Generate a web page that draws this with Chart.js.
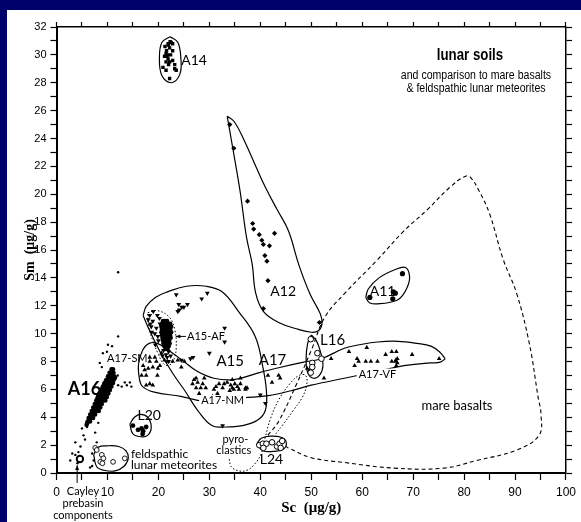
<!DOCTYPE html>
<html lang="en">
<head>
<meta charset="UTF-8">
<title>lunar soils - Sm vs Sc</title>
<script src="https://cdn.jsdelivr.net/npm/chart.js@4.4.1/dist/chart.umd.min.js"></script>
<style>
  html, body { margin: 0; padding: 0; overflow: hidden; background: #fff; }
  .band { position: fixed; background: #00006a; }
  #bandTop { left: 0; top: 0; right: 0; height: 10px; }
  #bandLeft { left: 0; top: 0; bottom: 0; width: 7px; }
  #wrap { position: absolute; left: 7px; top: 10px; width: 574px; height: 512px; }
</style>
</head>
<body>
<div class="band" id="bandTop"></div>
<div class="band" id="bandLeft"></div>
<div id="wrap"><canvas id="myChart" width="574" height="512"></canvas></div>
<script>
// ---- data (Sc, Sm in ug/g) ----
const a14 = [[21.9,30.8],[22.5,30.9],[22.8,30.8],[21.3,30.6],[22.2,30.5],[22.8,30.3],[21.5,30.1],[21.2,29.9],[21.9,29.7],
  [22.2,29.5],[22.8,29.6],[23.2,29.3],[20.9,29.1],[21.5,28.9],[23.2,29.0],[23.5,28.9],[22.2,28.3],[22.0,30.7],[21.6,30.3],
  [22.4,30.0],[21.8,30.0],[22.0,29.3],[21.5,29.5],[22.3,30.95],[21.7,29.9]];
const a12 = [[34.0,25.0],[34.8,23.3],[37.5,19.5],[38.5,17.9],[38.7,17.5],[39.8,17.1],[40.3,16.7],[40.6,16.4],[41.8,16.3],
  [42.8,17.2],[40.9,15.6],[41.3,15.2],[41.5,13.8],[40.6,11.8],[51.6,10.8]];
const a11 = [[67.9,14.3],[61.5,12.6],[66.1,13.0],[66.5,12.9],[66.0,12.5]];
const l16 = [[49.9,9.6],[51.2,8.6],[52.0,8.2],[50.2,7.9],[50.2,7.6],[49.9,7.2]];
const l20 = [[15.0,3.4],[16.0,3.1],[16.7,3.2],[17.0,3.0],[17.6,3.3],[16.9,2.8]];
const l24 = [[39.8,2.0],[40.5,2.1],[41.2,2.1],[42.3,2.2],[43.3,1.9],[43.8,2.1],[44.3,2.3],[40.6,1.8],[44.0,1.8]];
const feld = [[7.6,1.8],[7.9,1.65],[8.9,1.3],[9.2,1.05],[8.6,0.8],[9.0,0.7],[11.1,0.8],[13.4,1.05]];
const cayley = [[4.6,1.0]];
const a15 = [[23.5,12.8],[28.5,12.5],[29.6,12.9],[24.0,12.1],[24.6,11.9],[25.7,12.1],[24.1,11.7],[23.8,11.6],[25.0,11.9],
  [33.0,10.4],[33.0,9.4],[30.0,8.6],[26.3,8.2],[26.8,8.3],[24.5,8.1],[40.0,5.6],[41.0,5.0],[32.6,3.4],
  [18.3,11.3],[18.9,10.9],[18.6,10.5],[19.6,10.4],[20.2,11.1],[19.3,10.0],[18.0,11.0],[19.0,11.6],[19.9,9.8],[19.4,9.2],
  [20.0,9.5],[19.8,11.3],[18.4,10.7],[20.3,10.7],[18.7,10.1],
  [21.0,8.8],[21.5,8.5],[22.0,8.7],[21.7,8.3],[22.4,8.4],[20.8,8.4],[22.0,8.0]];
const a15af = [[20.9,10.9],[21.3,10.9],[21.7,10.9],
  [20.7,10.7],[21.1,10.7],[21.5,10.7],[21.9,10.7],[22.3,10.7],
  [20.6,10.5],[21.0,10.5],[21.4,10.5],[21.8,10.5],[22.2,10.5],[22.5,10.5],
  [20.7,10.3],[21.1,10.3],[21.5,10.3],[21.9,10.3],[22.3,10.3],
  [20.6,10.1],[21.0,10.1],[21.4,10.1],[21.8,10.1],[22.2,10.1],[22.5,10.1],
  [20.7,9.9],[21.1,9.9],[21.5,9.9],[21.9,9.9],[22.3,9.9],
  [20.8,9.7],[21.2,9.7],[21.6,9.7],[22.0,9.7],[22.4,9.7],
  [20.9,9.5],[21.3,9.5],[21.7,9.5],[22.1,9.5],
  [21.0,9.3],[21.4,9.3],[21.8,9.3],[22.2,9.3],
  [21.2,9.1],[21.6,9.1],[22.0,9.1],[21.4,8.9],[21.8,8.9]];
const a17 = [[17.0,7.7],[17.3,7.4],[18.0,7.5],[18.3,8.0],[19.3,8.3],[19.6,8.0],[18.9,7.6],[19.9,7.5],[17.6,7.0],[18.3,8.3],
  [20.6,8.6],[21.2,8.1],[21.8,8.0],[16.7,7.0],[18.9,6.3],[18.3,6.4],[17.6,6.3],[19.8,7.0],[20.3,7.7],[22.8,8.0],[23.8,8.1],
  [25.1,8.0],[24.5,7.6],
  [27.0,6.7],[27.4,6.8],[26.7,6.4],[27.7,6.5],[28.7,6.4],[29.0,6.8],[28.3,6.1],[27.4,6.1],[29.3,6.1],[30.9,6.0],[31.3,6.2],
  [31.9,6.4],[32.9,6.4],[32.6,6.1],[34.2,6.3],[34.5,6.1],[34.8,6.0],[35.5,6.2],[35.8,6.0],[36.1,6.4],[37.1,6.1],[31.6,5.7],
  [28.0,5.7],[30.6,5.5],[34.5,6.7],[37.4,6.1],[33.5,6.5],[34.0,5.9],[35.0,6.4],[36.1,6.8],[37.1,6.0],
  [41.5,7.0],[42.3,6.5],[43.6,7.0],[43.9,6.8],[49.2,7.5],[50.0,7.2],[49.6,7.35]];
const a17vf = [[53.9,8.2],[57.4,8.7],[60.9,9.0],[59.0,8.2],[59.3,8.0],[60.7,8.0],[61.7,8.0],[63.0,8.0],[58.5,7.7],[64.6,8.5],
  [65.8,8.7],[66.7,8.7],[66.5,8.0],[65.8,8.0],[66.9,7.9],[66.7,7.7],[69.8,8.5],[75.1,8.2],[52.5,6.8],[66.6,8.1],[66.9,8.2]];
const a16 = [[6.1,3.7],[6.6,3.7],[6.3,3.95],[6.8,3.95],[7.2,3.95],[6.6,4.2],[7.1,4.2],[7.6,4.2],
  [6.9,4.45],[7.4,4.45],[7.9,4.45],[8.3,4.45],[7.2,4.7],[7.7,4.7],[8.2,4.7],[8.6,4.7],
  [7.5,4.95],[8.0,4.95],[8.5,4.95],[8.9,4.95],[7.8,5.2],[8.3,5.2],[8.8,5.2],[9.2,5.2],[9.6,5.2],
  [8.1,5.45],[8.6,5.45],[9.1,5.45],[9.5,5.45],[9.9,5.45],[8.4,5.7],[8.9,5.7],[9.4,5.7],[9.8,5.7],[10.2,5.7],
  [8.8,5.95],[9.2,5.95],[9.7,5.95],[10.1,5.95],[10.5,5.95],[9.1,6.2],[9.6,6.2],[10.0,6.2],[10.4,6.2],[10.8,6.2],
  [9.4,6.45],[9.9,6.45],[10.3,6.45],[10.7,6.45],[11.1,6.45],[9.8,6.7],[10.2,6.7],[10.6,6.7],[11.0,6.7],[11.3,6.7],
  [10.1,6.95],[10.5,6.95],[10.9,6.95],[11.3,6.95],[10.4,7.2],[10.8,7.2],[11.2,7.2],[10.8,7.45],[11.1,7.45],
  [6.9,4.08],[7.35,4.33],[7.65,4.58],[7.95,4.83],[8.25,5.08],[8.55,5.33],[8.85,5.58],[9.15,5.83],[9.45,6.08],
  [9.75,6.33],[10.05,6.58],[10.4,6.83],[10.7,7.08],[9.3,5.33],[9.6,5.58],[9.95,5.83],[10.25,6.08],[10.55,6.33],
  [10.9,6.58],[8.0,5.33],[8.3,5.58],[8.7,5.83],[9.0,6.08],[9.3,6.33],[9.65,6.58],[7.5,4.58],[6.45,3.83],[7.0,4.33],
  [8.6,5.08],[8.9,5.33],[11.2,6.83],[11.5,6.85],[6.0,3.55],[5.9,3.45]];
const a16Scatter = [[12.1,14.4],[12.1,9.8],[10.1,9.2],[10.9,9.1],[9.1,8.6],[9.9,8.7],[8.9,7.6],[12.1,6.3],[12.8,6.2],
  [14.4,6.5],[14.7,6.2],[13.4,6.5],[6.0,3.3],[5.3,2.7],[5.6,2.4],[4.7,1.9],[4.3,1.5],[3.7,1.3],[7.0,1.4],[7.3,0.9],
  [6.6,0.4],[4.1,0.7],[2.7,0.9],[3.7,2.2],[3.1,1.4],[7.6,2.9],[8.2,3.6],[7.9,2.2],[7.0,0.5],[13.8,6.3],[11.6,6.8],
  [12.0,7.0],[8.5,7.9],[5.0,3.2]];

// ---- field outlines (Sc, Sm) ----
const a14Field = [[22.3,31.3],[23.8,30.9],[24.4,29.8],[24.2,28.6],[22.5,28.0],[20.7,28.5],[20.2,29.8],[20.7,30.9],[22.3,31.3]];
const a12Field = [[33.5,25.6],[34.9,25.2],[36.8,23.9],[39.0,22.1],[41.0,20.5],[43.3,18.9],[45.5,17.4],[47.6,14.9],
  [49.8,12.8],[51.8,11.4],[52.1,10.7],[51.4,10.2],[50.0,10.1],[47.5,10.3],[43.6,10.8],[40.6,11.6],[39.1,12.9],
  [38.4,15.0],[37.3,16.9],[36.0,20.3],[34.6,23.3],[33.5,25.6]];
const a11Field = [[60.7,12.6],[61.5,12.2],[63.5,12.15],[65.5,12.25],[67.3,12.5],[68.8,13.3],[69.3,14.1],[68.5,14.75],
  [66.5,14.6],[63.3,14.0],[61.2,13.2],[60.7,12.6]];
const l16Field = [[50.0,9.9],[51.0,9.5],[51.8,8.7],[52.3,7.7],[51.6,7.0],[50.4,6.8],[49.3,7.2],[49.0,8.2],[49.3,9.3],[50.0,9.9]];
const l20Field = [[14.4,3.5],[15.3,4.0],[16.5,4.2],[17.9,4.0],[18.6,3.3],[17.9,2.7],[16.5,2.6],[15.0,2.8],[14.4,3.5]];
const feldField = [[7.3,1.3],[8.2,1.85],[9.9,1.95],[12.2,1.9],[13.6,1.6],[14.1,1.1],[13.3,0.5],[11.5,0.15],[9.3,0.2],
  [7.9,0.45],[7.3,1.3]];
const l24Field = [[39.3,2.1],[40.2,2.5],[42.0,2.65],[44.2,2.55],[45.1,2.2],[44.5,1.7],[42.5,1.55],[40.5,1.6],[39.3,2.1]];
const a15afField = [[17.9,11.5],[19.8,11.65],[22.1,11.2],[23.2,10.3],[23.5,9.0],[23.0,8.1],[22.2,7.75],[21.1,7.8],
  [19.9,8.6],[18.9,9.5],[18.1,10.5],[17.9,11.5]];
const a15Field = [[17.0,11.3],[17.6,11.95],[19.4,12.6],[21.8,13.0],[25.5,13.4],[29.4,13.4],[32.5,13.0],[35.7,11.6],
  [39.0,9.8],[40.5,7.6],[41.2,5.9],[41.0,4.5],[39.5,3.8],[36.5,3.4],[33.0,3.3],[30.5,3.4],[27.7,4.5],[25.2,5.9],
  [22.9,7.1],[20.6,8.5],[18.3,10.2],[17.0,11.3]];
const a17Field = [[76.3,8.2],[75.3,8.65],[73.5,9.1],[70.8,9.3],[67.0,9.45],[63.0,9.4],[59.5,9.2],[56.5,8.95],[52.0,8.2],
  [48.5,7.95],[43.6,7.55],[39.3,7.15],[34.8,6.7],[30.9,6.8],[27.6,7.3],[25.0,8.0],[22.4,8.7],[19.8,9.3],[18.2,9.3],
  [16.9,8.8],[16.1,7.8],[16.3,6.7],[16.9,6.2],[19.2,5.8],[24.4,5.5],[28.9,5.15],[32.6,5.25],[36.7,5.4],[41.6,5.55],
  [46.0,5.9],[50.0,6.3],[56.5,6.8],[63.0,7.3],[68.2,7.7],[73.5,7.9],[75.3,7.95],[76.3,8.2]];
const mareField = [[41.5,2.7],[43.6,3.7],[46.9,6.2],[50.0,8.8],[52.7,11.2],[56.6,12.9],[63.0,15.3],[68.0,17.3],
  [72.8,18.9],[77.2,20.5],[80.3,21.3],[81.3,21.2],[83.0,20.2],[85.0,18.6],[87.7,15.3],[90.3,12.9],[92.8,9.3],
  [94.5,5.5],[95.1,4.2],[94.7,2.7],[90.3,1.65],[82.5,0.9],[76.0,0.35],[66.3,0.35],[56.6,0.75],[50.0,1.1],[45.5,1.8],[45.1,1.9]];
const pyroField = [[33.9,1.0],[34.3,0.45],[35.8,0.15],[37.4,0.2],[38.8,0.6],[40.2,1.4],[41.0,2.6],[42.0,3.9],[43.7,5.3],
  [45.8,6.4],[47.6,7.0],[48.9,7.0],[49.1,6.3],[48.2,5.4],[46.5,4.5],[44.5,3.5],[42.8,2.7]];

// ---- text labels placed in data units ----
const notes = [
  { t: 'A14', x: 27.0, y: 29.6, s: 14 },
  { t: 'A12', x: 44.5, y: 13.0, s: 14 },
  { t: 'A11', x: 64.0, y: 13.0, s: 14 },
  { t: 'L16', x: 54.2, y: 9.5, s: 15 },
  { t: 'A15', x: 34.1, y: 8.0, s: 15 },
  { t: 'A17', x: 42.4, y: 8.1, s: 15 },
  { t: 'A17-SM', x: 13.9, y: 8.2, s: 11 },
  { t: 'A15-AF', x: 25.6, y: 9.8, s: 11, a: 'left' },
  { t: 'A17-NM', x: 32.6, y: 5.2, s: 11, bg: true },
  { t: 'A17-VF', x: 63.0, y: 7.1, s: 11, bg: true },
  { t: 'L20', x: 18.2, y: 4.15, s: 14 },
  { t: 'L24', x: 42.2, y: 0.95, s: 14 },
  { t: 'pyro-', x: 35.1, y: 2.4, s: 11 },
  { t: 'clastics', x: 34.8, y: 1.6, s: 11 },
  { t: 'feldspathic', x: 14.6, y: 1.35, s: 12, a: 'left' },
  { t: 'lunar meteorites', x: 14.6, y: 0.55, s: 12, a: 'left' },
  { t: 'mare basalts', x: 78.6, y: 4.85, s: 13 },
  { t: 'A16', x: 5.5, y: 6.0, s: 18, w: 'bold' }
];

const FONT_N = "'Liberation Sans Narrow', 'Liberation Sans', sans-serif";
const FONT_H = "Lato, 'Liberation Sans', sans-serif";
const FONT_S = "'Liberation Serif', serif";

const xy = (arr) => arr.map(([x, y]) => ({ x, y }));

function pts(data, style, r, extra) {
  return Object.assign({
    data: xy(data), pointStyle: style, pointRadius: r, pointHoverRadius: r,
    backgroundColor: '#000', borderColor: '#000', borderWidth: 0, showLine: false
  }, extra || {});
}
function field(data, dash, w) {
  return {
    data: xy(data), showLine: true, tension: 0.4, pointRadius: 0, fill: false,
    borderColor: '#000', borderWidth: w || 1.2, borderDash: dash || []
  };
}

function arrow(ctx, x0, y0, x1, y1) {
  const a = Math.atan2(y1 - y0, x1 - x0), h = 5;
  ctx.beginPath();
  ctx.moveTo(x0, y0); ctx.lineTo(x1, y1); ctx.stroke();
  ctx.beginPath();
  ctx.moveTo(x1, y1);
  ctx.lineTo(x1 - h * Math.cos(a - 0.4), y1 - h * Math.sin(a - 0.4));
  ctx.lineTo(x1 - h * Math.cos(a + 0.4), y1 - h * Math.sin(a + 0.4));
  ctx.closePath(); ctx.fill();
}

// squeeze a line of text horizontally, like the condensed face of the original
function squeezed(ctx, text, x, y, k) {
  ctx.save();
  ctx.translate(x, y);
  ctx.scale(k, 1);
  ctx.fillText(text, 0, 0);
  ctx.restore();
}

const notesPlugin = {
  id: 'notes',
  afterDraw(chart) {
    const { ctx, chartArea: ca, scales: { x, y } } = chart;
    ctx.save();
    ctx.fillStyle = '#000';
    ctx.strokeStyle = '#000';
    ctx.lineWidth = 1;
    ctx.textBaseline = 'middle';
    notes.forEach(n => {
      ctx.font = `${n.w || 'normal'} ${n.s}px ${FONT_H}`;
      ctx.textAlign = n.a || 'center';
      const px = x.getPixelForValue(n.x), py = y.getPixelForValue(n.y);
      if (n.bg) {
        const w = ctx.measureText(n.t).width;
        ctx.fillStyle = '#fff';
        ctx.fillRect(px - w / 2 - 2, py - n.s / 2, w + 4, n.s);
        ctx.fillStyle = '#000';
      }
      ctx.fillText(n.t, px, py);
    });
    // arrow to the A15-AF cluster
    arrow(ctx, x.getPixelForValue(25.4), y.getPixelForValue(9.8), x.getPixelForValue(23.4), y.getPixelForValue(9.8));
    // Cayley prebasin components, under the axis
    ctx.font = `11px ${FONT_H}`;
    ctx.textAlign = 'center';
    const cx = x.getPixelForValue(5.2);
    ctx.fillText('Cayley', cx, ca.bottom + 18);
    ctx.fillText('prebasin', cx, ca.bottom + 30);
    ctx.fillText('components', cx, ca.bottom + 42);
    arrow(ctx, x.getPixelForValue(4.05), ca.bottom + 10, x.getPixelForValue(4.05), y.getPixelForValue(0.55));
    // title block
    ctx.font = `bold 17px ${FONT_N}`;
    squeezed(ctx, 'lunar soils', ca.right - 96, ca.top + 28, 0.78);
    ctx.font = `12px ${FONT_N}`;
    squeezed(ctx, 'and comparison to mare basalts', ca.right - 90, ca.top + 49, 0.88);
    squeezed(ctx, '& feldspathic lunar meteorites', ca.right - 90, ca.top + 62, 0.88);
    ctx.restore();
  }
};

const tickFont = { family: FONT_N, size: 12 };
const hideOdd = (step) => (v) => (v % step === 0 ? v : '');

new Chart(document.getElementById('myChart'), {
  type: 'scatter',
  data: {
    datasets: [
      pts(a14, 'rect', 2.4),
      pts(a12, 'rectRot', 2.6),
      pts(a11, 'circle', 2.6),
      pts(l16, 'circle', 2.8, { backgroundColor: '#fff', borderWidth: 1 }),
      pts(l20, 'circle', 2.4),
      pts(l24, 'circle', 2.8, { backgroundColor: '#fff', borderWidth: 1 }),
      pts(l24, 'circle', 0.9),
      pts(feld, 'circle', 2.4, { backgroundColor: '#fff', borderWidth: 0.9 }),
      pts(feld, 'circle', 0.8),
      pts(cayley, 'circle', 3.2, { backgroundColor: '#fff', borderWidth: 2 }),
      pts(a15, 'triangle', 2.8, { pointRotation: 180 }),
      pts(a15af, 'circle', 2.3),
      pts(a17, 'triangle', 2.7),
      pts(a17vf, 'triangle', 2.7),
      pts(a16, 'circle', 2.2),
      pts(a16Scatter, 'circle', 1.2),
      field(a14Field),
      field(a12Field),
      field(a11Field),
      field(l16Field),
      field(l20Field),
      field(feldField),
      field(l24Field),
      field(a15afField, [1.5, 2], 1),
      field(a15Field),
      field(a17Field),
      field(mareField, [4, 3], 1.1),
      field(pyroField, [1.5, 2], 1)
    ]
  },
  options: {
    responsive: false,
    animation: false,
    events: [],
    layout: { padding: 0 },
    plugins: { legend: { display: false }, tooltip: { enabled: false } },
    scales: {
      x: {
        type: 'linear', position: 'bottom', min: 0, max: 100,
        ticks: { stepSize: 5, autoSkip: false, maxRotation: 0, padding: 5, color: '#000', font: tickFont, callback: hideOdd(10) },
        grid: { drawOnChartArea: false, tickLength: 7, tickColor: '#000', tickWidth: 1.2 },
        border: { color: '#000', width: 2 },
        title: { display: true, text: 'Sc  (\u03bcg/g)', color: '#000', font: { family: FONT_S, size: 15, weight: 'bold' }, padding: { top: 0, bottom: 5 } },
        afterFit: (s) => { s.height = 49; }
      },
      xTop: {
        type: 'linear', position: 'top', min: 0, max: 100,
        ticks: { stepSize: 5, autoSkip: false, callback: () => '' },
        grid: { drawOnChartArea: false, tickLength: 5, tickColor: '#000', tickWidth: 1.2 },
        border: { color: '#000', width: 1.5 },
        afterFit: (s) => { s.height = 17; }
      },
      y: {
        type: 'linear', position: 'left', min: 0, max: 32,
        ticks: { stepSize: 1, autoSkip: false, padding: 4, color: '#000', font: { family: FONT_N, size: 11 }, callback: hideOdd(2) },
        grid: { drawOnChartArea: false, tickLength: 6, tickColor: '#000', tickWidth: 1.2 },
        border: { color: '#000', width: 2 },
        title: { display: true, text: 'Sm  (\u03bcg/g)', color: '#000', font: { family: FONT_S, size: 14, weight: 'bold' }, padding: { top: 15, bottom: 0 } },
        afterFit: (s) => { s.width = 49.5; }
      },
      yRight: {
        type: 'linear', position: 'right', min: 0, max: 32,
        ticks: { stepSize: 1, autoSkip: false, callback: () => '' },
        grid: { drawOnChartArea: false, tickLength: 6, tickColor: '#000', tickWidth: 1.2 },
        border: { color: '#000', width: 1.5 },
        afterFit: (s) => { s.width = 11; }
      }
    }
  },
  plugins: [notesPlugin]
});
</script>
</body>
</html>
